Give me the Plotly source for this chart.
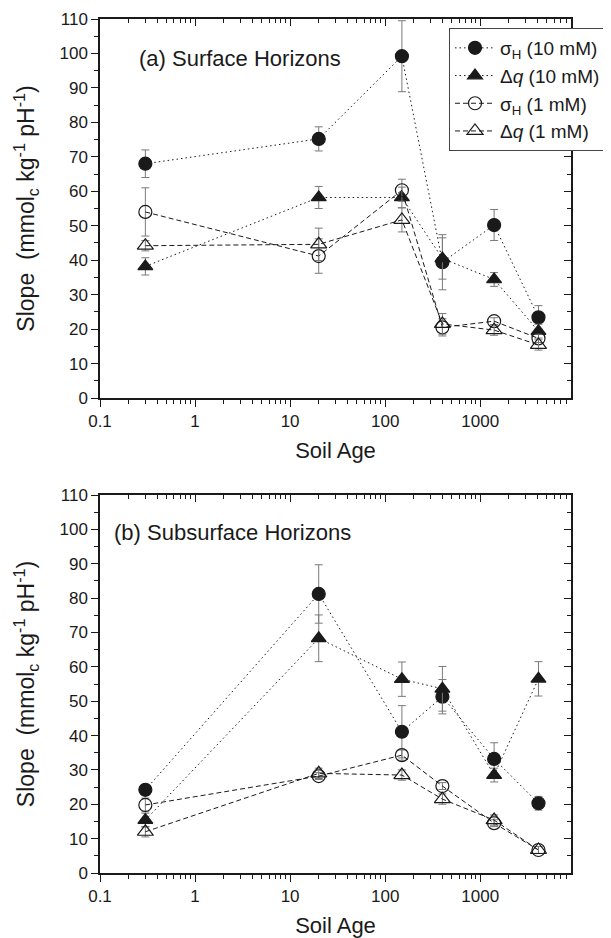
import plotly.graph_objects as go

# ---------------- data ----------------
soil_age = [0.3, 20, 150, 400, 1400, 4100]

# (a) Surface horizons
surf_sH10 = [68.0, 75.2, 99.2, 39.4, 50.2, 23.4]
surf_sH10_err = [4.0, 3.5, 10.3, 8.0, 4.5, 3.4]
surf_dq10 = [38.2, 58.2, 58.2, 40.5, 34.4, 19.4]
surf_dq10_err = [2.5, 3.2, 3.0, 6.0, 2.0, 2.0]
surf_sH1 = [54.0, 41.2, 60.3, 20.5, 22.3, 17.3]
surf_sH1_err = [7.0, 5.0, 3.2, 2.5, 1.0, 1.2]
surf_dq1 = [44.2, 44.6, 51.7, 21.5, 19.7, 15.4]
surf_dq1_err = [1.5, 4.7, 3.5, 3.0, 1.5, 1.5]

# (b) Subsurface horizons
sub_sH10 = [24.2, 81.2, 41.1, 51.3, 33.2, 20.3]
sub_sH10_err = [1.5, 8.5, 7.6, 5.0, 4.7, 2.0]
sub_dq10 = [15.4, 68.3, 56.4, 53.6, 28.5, 56.5]
sub_dq10_err = [2.0, 6.8, 5.0, 6.5, 2.0, 5.0]
sub_sH1 = [19.8, 28.2, 34.3, 25.3, 14.5, 6.7]
sub_sH1_err = [2.0, 1.0, 1.5, 1.0, 1.0, 1.0]
sub_dq1 = [12.0, 29.0, 28.5, 21.5, 15.4, 6.7]
sub_dq1_err = [1.5, 1.5, 1.5, 1.5, 1.5, 1.0]

series_names = ["σ<sub>H</sub> (10 mM)", "Δ<i>q</i> (10 mM)",
                "σ<sub>H</sub> (1 mM)", "Δ<i>q</i> (1 mM)"]
x_tick_vals = [0.1, 1, 10, 100, 1000]
x_tick_text = ["0.1", "1", "10", "100", "1000"]
panel_titles = ["(a) Surface Horizons", "(b) Subsurface Horizons"]
y_title = "Slope&nbsp;&nbsp;(mmol<sub>c</sub> kg<sup>-1</sup> pH<sup>-1</sup>)"

# ---------------- styling ----------------
FONT = "Liberation Sans, Arial, sans-serif"
INK = "#1a1a1a"
ERR = "#7a7a7a"
DOT = "1.5px,3px"
DASH = "5px,3px"

styles = [
    dict(symbol="circle", size=13, dash=DOT),
    dict(symbol="triangle-up", size=13, dash=DOT),
    dict(symbol="circle-open", size=13, dash=DASH),
    dict(symbol="triangle-up-open", size=14, dash=DASH),
]

panels = [
    ([surf_sH10, surf_dq10, surf_sH1, surf_dq1],
     [surf_sH10_err, surf_dq10_err, surf_sH1_err, surf_dq1_err], "x", "y"),
    ([sub_sH10, sub_dq10, sub_sH1, sub_dq1],
     [sub_sH10_err, sub_dq10_err, sub_sH1_err, sub_dq1_err], "x2", "y2"),
]

fig = go.Figure()
# invisible copies on a second set of axes that carry the top / right frame ticks
for (vals, errs, xa, ya), (fx, fy) in zip(panels, [("x3", "y3"), ("x4", "y4")]):
    fig.add_trace(go.Scatter(x=soil_age, y=vals[0], xaxis=fx, yaxis=fy,
                             mode="markers", showlegend=False,
                             marker=dict(opacity=0, size=1),
                             hoverinfo="skip"))

for pi, (vals, errs, xa, ya) in enumerate(panels):
    for si in range(4):
        st = styles[si]
        fig.add_trace(go.Scatter(
            x=soil_age, y=vals[si], xaxis=xa, yaxis=ya,
            mode="lines+markers", name=series_names[si],
            showlegend=(pi == 0),
            line=dict(color=INK, width=1, dash=st["dash"]),
            marker=dict(symbol=st["symbol"], size=st["size"], color=INK,
                        line=dict(color=INK, width=1.2)),
            error_y=dict(type="data", array=errs[si], color=ERR,
                         thickness=1, width=4),
        ))

minor_vals = [m * 10 ** e for e in range(-1, 4) for m in range(2, 10)]
minor_vals = [v for v in minor_vals if v < 9000]
XR = [-1, 3.955]

def base_x(anchor):
    return dict(
        type="log", range=XR, anchor=anchor, domain=[0, 1],
        tickmode="array", tickvals=x_tick_vals, ticktext=x_tick_text,
        ticks="outside", ticklen=7, tickwidth=1.2, tickcolor=INK,
        minor=dict(tickmode="array", tickvals=minor_vals, ticks="outside",
                   ticklen=4, tickwidth=1, tickcolor=INK),
        showline=True, linecolor=INK, linewidth=1.5, mirror=True,
        showgrid=False, zeroline=False,
        tickfont=dict(family=FONT, size=17, color=INK),
        title=dict(text="Soil Age", font=dict(family=FONT, size=22, color=INK),
                   standoff=12),
    )

def base_y(anchor, domain):
    return dict(
        range=[0, 110], domain=domain, anchor=anchor,
        tickmode="linear", tick0=0, dtick=10,
        ticks="outside", ticklen=7, tickwidth=1.2, tickcolor=INK,
        minor=dict(dtick=5, ticks="outside", ticklen=4, tickwidth=1,
                   tickcolor=INK),
        showline=True, linecolor=INK, linewidth=1.5, mirror=True,
        showgrid=False, zeroline=False,
        tickfont=dict(family=FONT, size=17, color=INK),
        title=dict(text=y_title, font=dict(family=FONT, size=23, color=INK),
                   standoff=18),
    )

def frame_x(anchor):
    return dict(
        visible=True,
        type="log", range=XR, anchor=anchor, side="top", domain=[0, 1],
        tickmode="array", tickvals=x_tick_vals, showticklabels=False,
        ticks="inside", ticklen=7, tickwidth=1.2, tickcolor=INK,
        minor=dict(tickmode="array", tickvals=minor_vals, ticks="inside",
                   ticklen=4, tickwidth=1, tickcolor=INK),
        showline=True, linecolor=INK, linewidth=1.5,
        showgrid=False, zeroline=False,
    )

def frame_y(anchor, domain):
    return dict(
        visible=True,
        range=[0, 110], anchor=anchor, side="right", domain=domain,
        tickmode="linear", tick0=0, dtick=10, showticklabels=False,
        ticks="inside", ticklen=7, tickwidth=1.2, tickcolor=INK,
        minor=dict(dtick=5, ticks="inside", ticklen=4, tickwidth=1,
                   tickcolor=INK),
        showline=True, linecolor=INK, linewidth=1.5,
        showgrid=False, zeroline=False,
    )

# the page body adds an 8 px offset, so margins are set 8 px smaller on top/left
ML, MR, MT, MB = 92, 48, 11, 73
H_PLOT = 938 - MT - MB
top_dom = [(H_PLOT - (398 - 19)) / H_PLOT, 1.0]
bot_dom = [0.0, (873 - 495) / H_PLOT]

fig.update_layout(
    width=611, height=938,
    margin=dict(l=ML, r=MR, t=MT, b=MB, autoexpand=False),
    paper_bgcolor="white", plot_bgcolor="rgba(0,0,0,0)",
    font=dict(family=FONT, color=INK),
    xaxis=base_x("y"),
    yaxis=base_y("x", top_dom),
    xaxis2=base_x("y2"),
    yaxis2=base_y("x2", bot_dom),
    xaxis3=frame_x("y3"),
    yaxis3=frame_y("x3", top_dom),
    xaxis4=frame_x("y4"),
    yaxis4=frame_y("x4", bot_dom),
    legend=dict(
        x=(449 - 100) / 471, y=(873 - 28) / H_PLOT, xanchor="left", yanchor="top",
        bgcolor="white", bordercolor="#444", borderwidth=1,
        font=dict(family=FONT, size=19, color=INK),
        itemwidth=40, traceorder="normal",
    ),
    annotations=[
        dict(text=panel_titles[0], xref="paper", yref="paper",
             x=(137 - 100) / 471, y=(873 - 58) / H_PLOT, xanchor="left",
             yanchor="middle", showarrow=False,
             font=dict(family=FONT, size=22, color=INK)),
        dict(text=panel_titles[1], xref="paper", yref="paper",
             x=(112 - 100) / 471, y=(873 - 532) / H_PLOT, xanchor="left",
             yanchor="middle", showarrow=False,
             font=dict(family=FONT, size=22, color=INK)),
    ],
)

fig.write_html("out.html")
